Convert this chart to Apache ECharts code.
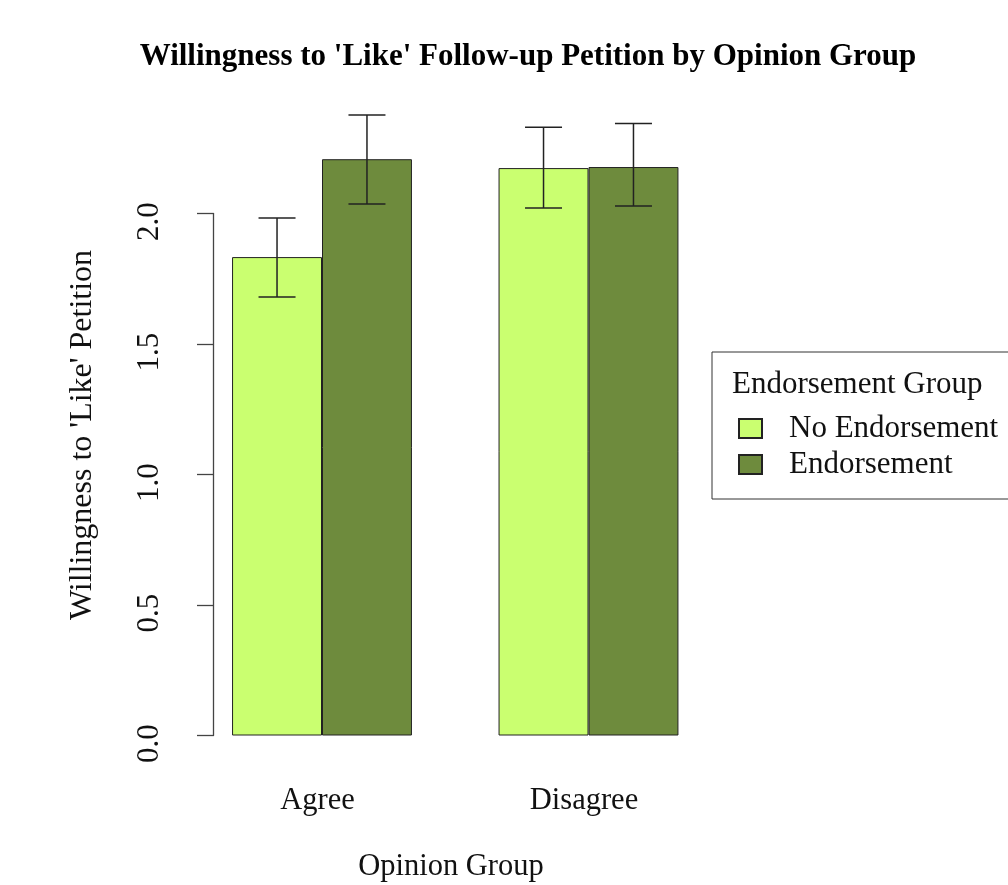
<!DOCTYPE html>
<html>
<head>
<meta charset="utf-8">
<script src="https://cdn.jsdelivr.net/npm/echarts@6/dist/echarts.min.js"></script>
<style>html,body{margin:0;padding:0;background:#fff}#c{width:1008px;height:885px}</style>
</head>
<body>
<div id="c"></div>
<script>
const categories = ['Agree', 'Disagree'];
const seriesNames = ['No Endorsement', 'Endorsement'];
const noEndorsement = [1.833, 2.174];
const endorsement = [2.208, 2.178];
const noEndorsementLow = [1.680, 2.021];
const noEndorsementHigh = [1.983, 2.330];
const endorsementLow = [2.036, 2.029];
const endorsementHigh = [2.377, 2.345];
const yTicks = [0, 0.5, 1.0, 1.5, 2.0];

const colors = ['#CAFF70', '#6E8B3D'];
const serif = '"Liberation Serif", "DejaVu Serif", serif';
const gapFrac = 0.325;

function errData(lo, hi) { return categories.map((c, i) => [i, lo[i], hi[i]]); }

function errRender(side) {
  return function (params, api) {
    const i = api.value(0);
    const lo = api.coord([i, api.value(1)]);
    const hi = api.coord([i, api.value(2)]);
    const catW = api.size([1, 0])[0];
    const bw = catW * (1 - gapFrac) / 2;
    const x = lo[0] + side * bw / 2;
    const cap = 18.5;
    const st = { stroke: '#222', lineWidth: 1.5 };
    return {
      type: 'group',
      children: [
        { type: 'line', shape: { x1: x, y1: lo[1], x2: x, y2: hi[1] }, style: st },
        { type: 'line', shape: { x1: x - cap, y1: lo[1], x2: x + cap, y2: lo[1] }, style: st },
        { type: 'line', shape: { x1: x - cap, y1: hi[1], x2: x + cap, y2: hi[1] }, style: st }
      ]
    };
  };
}

const chart = echarts.init(document.getElementById('c'));
chart.setOption({
  animation: false,
  backgroundColor: '#fff',
  title: {
    text: "Willingness to 'Like' Follow-up Petition by Opinion Group",
    left: 523, top: 36, textAlign: 'center',
    textStyle: { fontFamily: serif, fontWeight: 'bold', fontSize: 31, color: '#000' }
  },
  grid: { left: 188.75, right: 286.25, top: 213.5, bottom: 149.5 },
  legend: {
    data: seriesNames,
    orient: 'vertical',
    left: 712, top: 352,
    padding: [61, 22, 19, 26],
    icon: 'rect',
    itemWidth: 23, itemHeight: 19, itemGap: 5,
    borderColor: '#333', borderWidth: 1,
    textStyle: { fontFamily: serif, fontSize: 31, color: '#111', lineHeight: 20, padding: [0, 0, 0, 22] }
  },
  xAxis: {
    type: 'category',
    data: categories,
    axisLine: { show: false },
    axisTick: { show: false },
    axisLabel: { fontFamily: serif, fontSize: 30.5, color: '#111', margin: 50, padding: [0, 9, 0, 0] }
  },
  yAxis: {
    type: 'value',
    min: 0, max: 2, interval: 0.5,
    offset: -24.25,
    splitLine: { show: false },
    axisLine: { show: true, lineStyle: { color: '#444', width: 1.3 } },
    axisTick: { show: true, length: 16, lineStyle: { color: '#444', width: 1.3 } },
    axisLabel: {
      rotate: 90, margin: 48, fontFamily: serif, fontSize: 31, color: '#111', padding: [0, 16, 0, 0],
      formatter: v => yTicks.includes(v) ? v.toFixed(1) : ''
    }
  },
  series: [
    {
      name: seriesNames[0], type: 'bar', data: noEndorsement, clip: false,
      barGap: '0%', barCategoryGap: (gapFrac * 100) + '%',
      itemStyle: { color: colors[0], borderColor: '#222', borderWidth: 1 }
    },
    {
      name: seriesNames[1], type: 'bar', data: endorsement, clip: false,
      barGap: '0%', barCategoryGap: (gapFrac * 100) + '%',
      itemStyle: { color: colors[1], borderColor: '#222', borderWidth: 1 }
    },
    {
      type: 'custom', renderItem: errRender(-1), data: errData(noEndorsementLow, noEndorsementHigh),
      clip: false, z: 5, silent: true, encode: { x: 0, y: [1, 2] }
    },
    {
      type: 'custom', renderItem: errRender(1), data: errData(endorsementLow, endorsementHigh),
      clip: false, z: 5, silent: true, encode: { x: 0, y: [1, 2] }
    }
  ],
  graphic: [
    {
      type: 'text', x: 83, y: 435, rotation: Math.PI / 2,
      style: { text: "Willingness to 'Like' Petition", font: '32px ' + serif, fill: '#111', textAlign: 'center', textVerticalAlign: 'middle' }
    },
    {
      type: 'text', x: 451, y: 867,
      style: { text: 'Opinion Group', font: '30.5px ' + serif, fill: '#111', textAlign: 'center', textVerticalAlign: 'middle' }
    },
    {
      type: 'text', x: 732, y: 385,
      style: { text: 'Endorsement Group', font: '31px ' + serif, fill: '#111', textAlign: 'left', textVerticalAlign: 'middle' }
    }
  ]
});
</script>
</body>
</html>
